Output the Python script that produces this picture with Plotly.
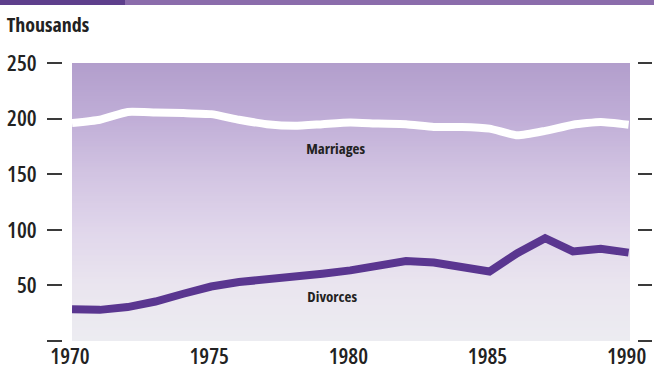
import plotly.graph_objects as go

# Annual marriages and divorces, thousands
years = list(range(1970, 1991))
marriages = [196, 199, 206, 205.5, 205, 204, 199, 195, 193.5, 195, 196.5,
             195.5, 195, 192.5, 192.5, 191, 185, 189, 194.5, 197, 194.5]
divorces = [28.5, 28, 30.5, 35.5, 42.5, 49, 53, 55, 57.5, 60.5, 63.5,
            68.5, 72, 70.5, 67, 62.5, 79, 92.5, 80.5, 83, 79.5]

y_tickvals = [0, 50, 100, 150, 200, 250]
y_ticktext = ["", "50", "100", "150", "200", "250"]
x_tickvals = [1970, 1975, 1980, 1985, 1990]

FONT = "Open Sans, Liberation Sans, sans-serif"
TEXT = "#222222"
W, H = 654, 376

fig = go.Figure()

fig.add_trace(go.Scatter(x=years, y=marriages, mode="lines",
                         line=dict(color="white", width=8, shape="spline", smoothing=0.5),
                         hoverinfo="skip", showlegend=False))
fig.add_trace(go.Scatter(x=years, y=divorces, mode="lines",
                         line=dict(color="#5a3690", width=8),
                         hoverinfo="skip", showlegend=False))
# empty trace so the right-hand tick axis is drawn
fig.add_trace(go.Scatter(x=[None], y=[None], yaxis="y2", mode="lines",
                         hoverinfo="skip", showlegend=False))

# vertical lavender gradient behind the plot (overlapping bands, no seams)
stops = [(0, (236, 236, 241)), (50, (234, 229, 239)), (100, (224, 214, 235)),
         (150, (210, 196, 226)), (200, (192, 174, 215)), (250, (178, 158, 204))]
def col(v):
    for (a, ca), (b, cb) in zip(stops[:-1], stops[1:]):
        if a <= v <= b:
            t = (v - a) / (b - a)
            return "rgb(%d,%d,%d)" % tuple(round(ca[i] + (cb[i] - ca[i]) * t) for i in range(3))
    return "rgb(%d,%d,%d)" % stops[-1][1]

shapes = []
step = 2
for v in range(0, 250, step):
    shapes.append(dict(type="rect", layer="below", xref="x domain", yref="y",
                       x0=0, x1=1, y0=v, y1=250, line=dict(width=0),
                       fillcolor=col(v + step / 2)))
# header strip
shapes.append(dict(type="rect", xref="paper", yref="paper", x0=0, x1=1,
                   y0=1 - 5 / H, y1=1, line=dict(width=0), fillcolor="#8b6cab"))
shapes.append(dict(type="rect", xref="paper", yref="paper", x0=0, x1=125 / W,
                   y0=1 - 5 / H, y1=1, line=dict(width=0), fillcolor="#5e3f8c"))

annotations = [
    dict(text="Thousands", xref="paper", yref="paper", x=48 / W, y=1 - 25 / H,
         xanchor="center", yanchor="middle", showarrow=False,
         font=dict(family=FONT, size=20, color=TEXT, weight=700)),
    dict(text="Marriages", x=1979.45, y=174, xref="x", yref="y", showarrow=False,
         font=dict(family=FONT, size=15, color=TEXT, weight=700)),
    dict(text="Divorces", x=1979.35, y=40.5, xref="x", yref="y", showarrow=False,
         font=dict(family=FONT, size=15, color=TEXT, weight=700)),
]

fig.update_layout(
    template="none",
    width=W, height=H, margin=dict(l=0, r=0, t=0, b=0, autoexpand=False),
    paper_bgcolor="white", plot_bgcolor="white",
    shapes=shapes, annotations=annotations,
    xaxis=dict(domain=[72 / W, 630 / W], range=[1970, 1990.05], automargin=False,
               tickvals=x_tickvals, ticks="", showgrid=False, zeroline=False,
               showline=False, ticklabelshift=-2,
               tickfont=dict(family=FONT, size=22, color=TEXT, weight=600)),
    yaxis=dict(domain=[35 / H, 313 / H], range=[0, 250], anchor="free",
               position=62 / W, tickvals=y_tickvals, ticktext=y_ticktext,
               ticks="outside", ticklen=15, tickwidth=2, tickcolor="#3a3a3a",
               showgrid=False, zeroline=False, showline=False, automargin=False,
               ticklabelstandoff=6,
               tickfont=dict(family=FONT, size=22, color=TEXT, weight=600)),
    yaxis2=dict(domain=[35 / H, 313 / H], range=[0, 250], overlaying="y",
                side="right", anchor="free", position=637 / W, automargin=False,
                tickvals=y_tickvals, ticks="outside", ticklen=14, tickwidth=2,
                tickcolor="#3a3a3a", showticklabels=False, showgrid=False,
                zeroline=False, showline=False),
)

# condensed face for all chart text
condense = "document.querySelectorAll('.main-svg text').forEach(function(t){t.style.fontStretch='75%';});"

fig.write_html("out.html", post_script=condense)
